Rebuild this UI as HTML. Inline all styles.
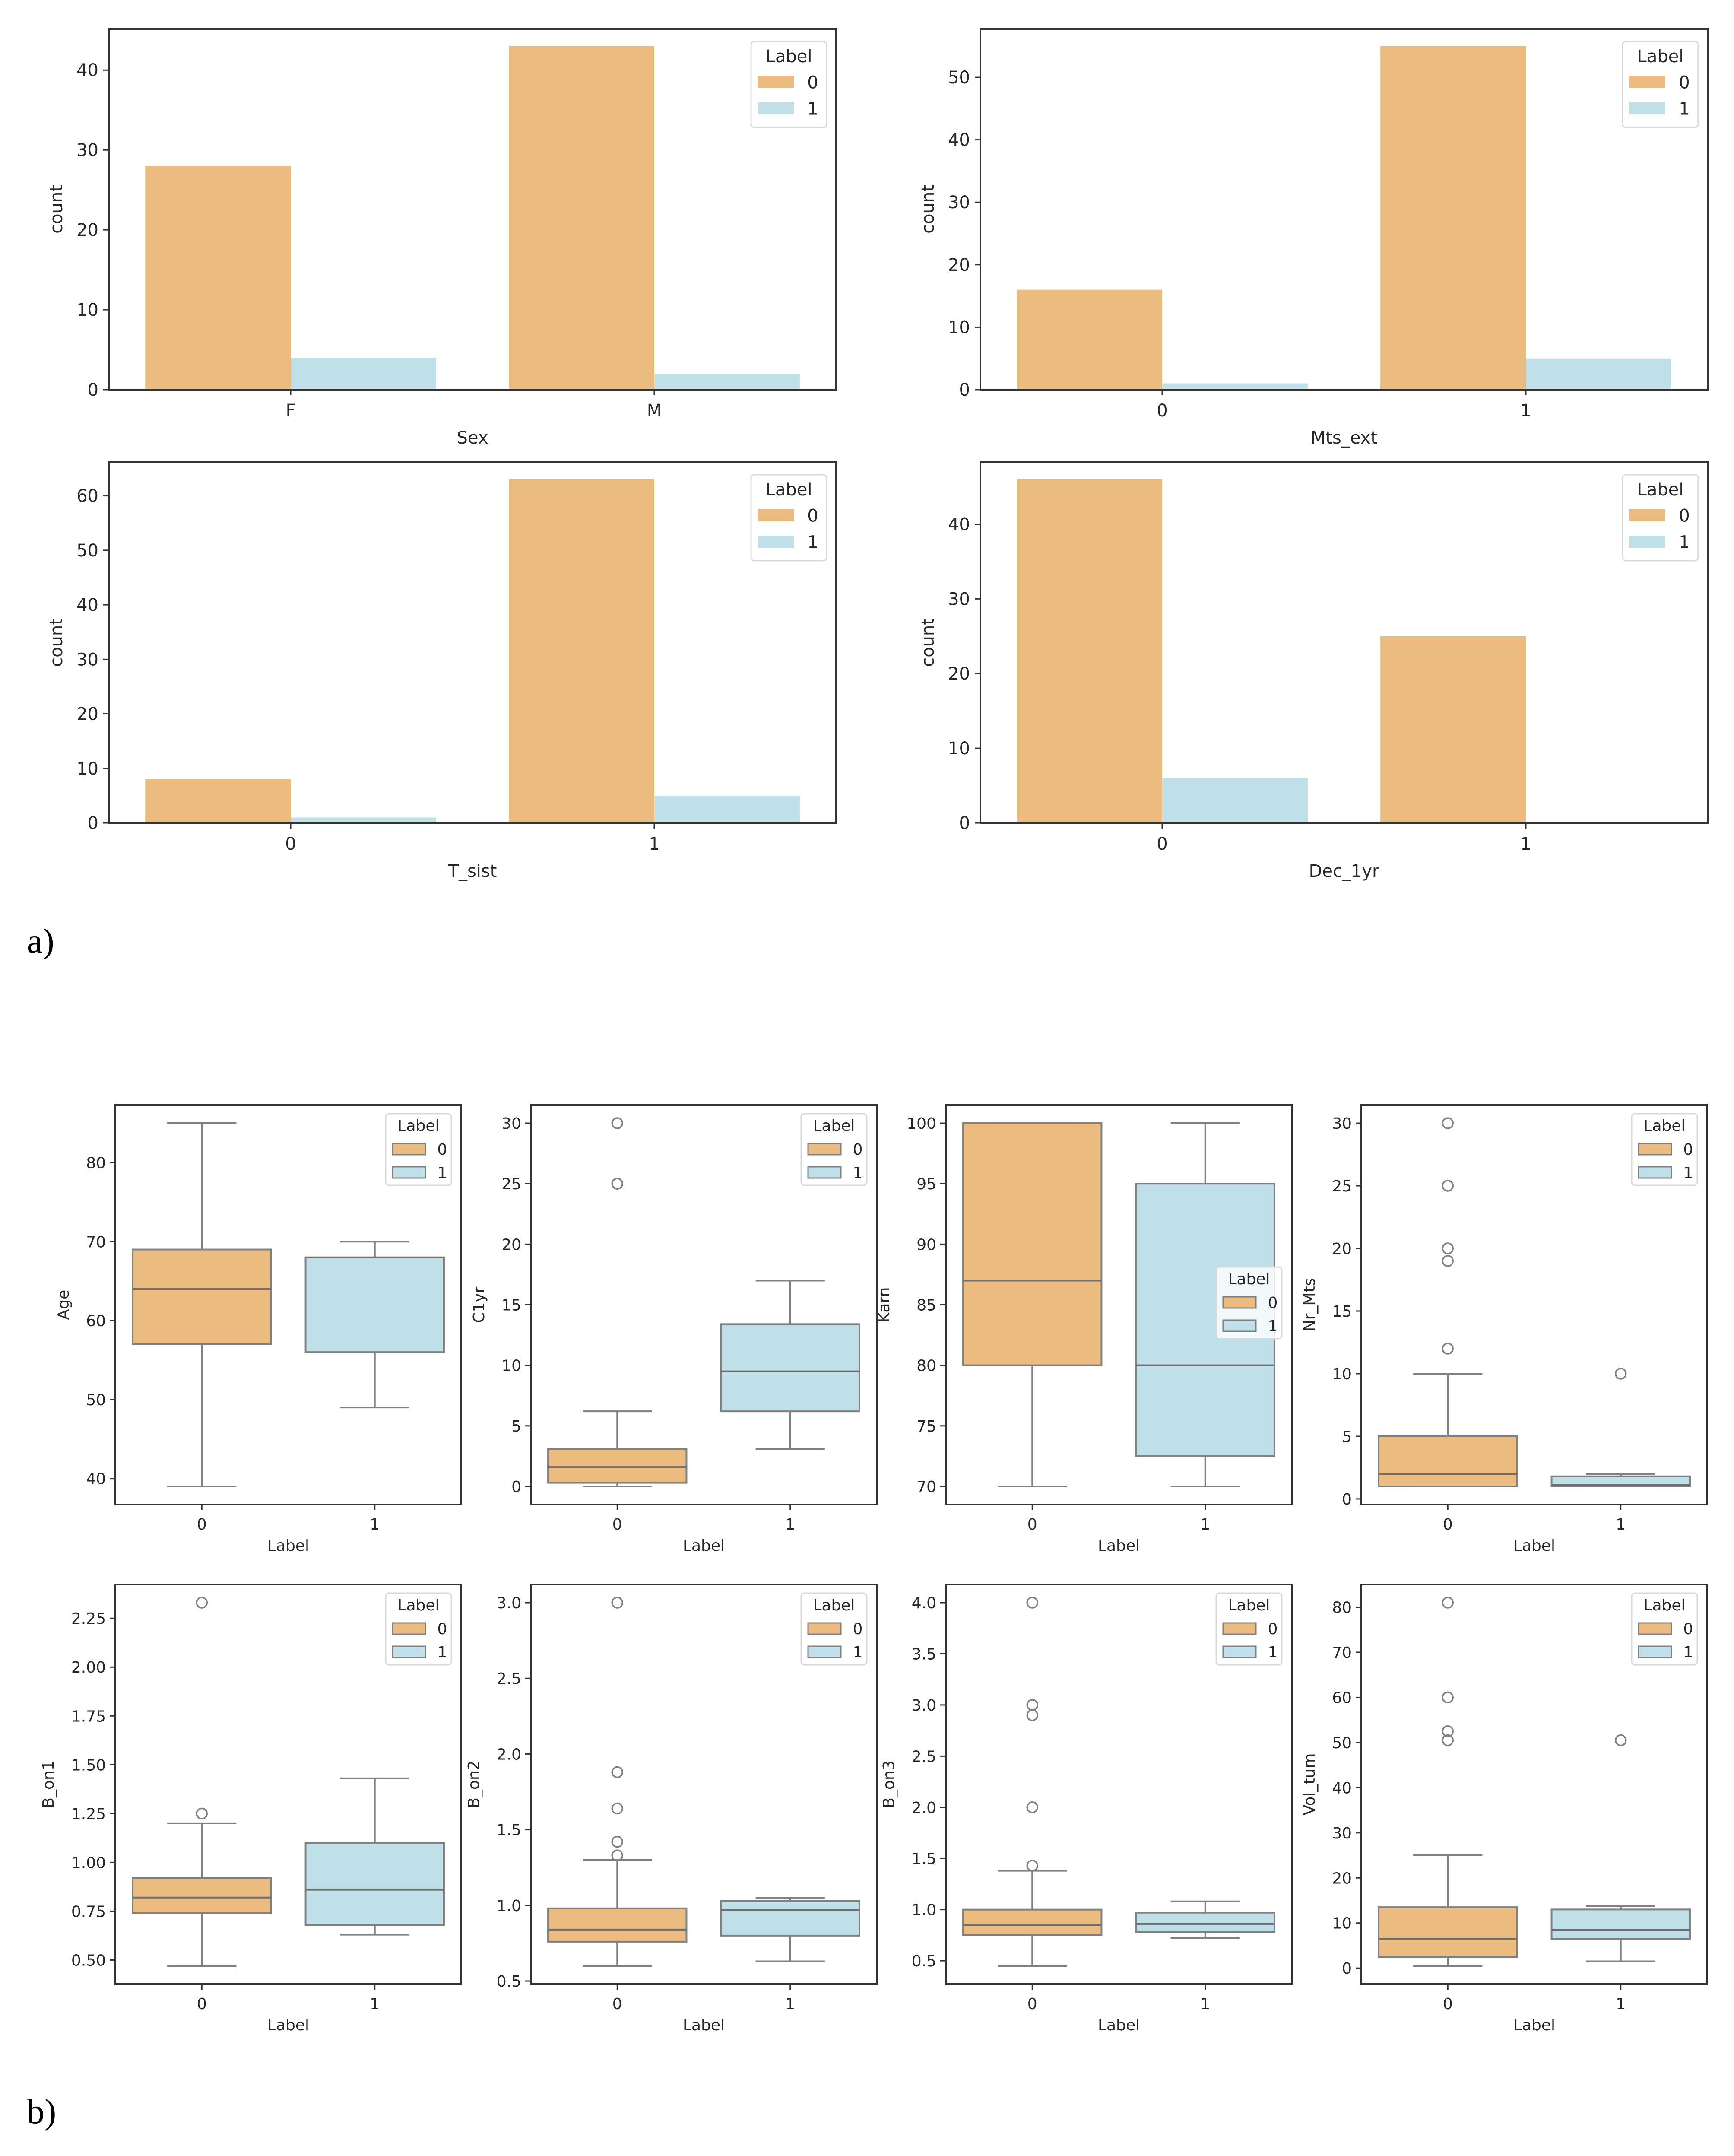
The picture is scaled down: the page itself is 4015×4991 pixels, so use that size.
<!DOCTYPE html>
<html><head><meta charset="utf-8"><style>
html,body{margin:0;padding:0;background:#fff;}
svg{display:block;font-family:"DejaVu Sans","Liberation Sans",sans-serif;}
</style></head><body>
<svg id="fig" xmlns="http://www.w3.org/2000/svg" width="4015" height="4991" viewBox="0 0 4015 4991">
<rect x="0" y="0" width="4015" height="4991" fill="#fff"/>
<text x="62" y="2205" font-family="Liberation Serif, serif" font-size="82" fill="#000">a)</text>
<text x="62" y="4915" font-family="Liberation Serif, serif" font-size="82" fill="#000">b)</text>
</svg>
<script>
// ---------- Bar chart data ----------
const sexCats = ['F', 'M'];
const sexLabel0 = [28, 43];
const sexLabel1 = [4, 2];
const sexTicks = [0, 10, 20, 30, 40];

const mtsCats = ['0', '1'];
const mtsLabel0 = [16, 55];
const mtsLabel1 = [1, 5];
const mtsTicks = [0, 10, 20, 30, 40, 50];

const tsistCats = ['0', '1'];
const tsistLabel0 = [8, 63];
const tsistLabel1 = [1, 5];
const tsistTicks = [0, 10, 20, 30, 40, 50, 60];

const decCats = ['0', '1'];
const decLabel0 = [46, 25];
const decLabel1 = [6, 0];
const decTicks = [0, 10, 20, 30, 40];

// ---------- Box plot data: [whisker low, q1, median, q3, whisker high] ----------
const boxCats = ['0', '1'];
const ageBox0 = [39, 57, 64, 69, 85];
const ageBox1 = [49, 56, 68, 68, 70];
const ageOut0 = [];
const ageOut1 = [];
const ageTicks = [40, 50, 60, 70, 80];

const c1yrBox0 = [0, 0.3, 1.6, 3.1, 6.2];
const c1yrBox1 = [3.1, 6.2, 9.5, 13.4, 17];
const c1yrOut0 = [25, 30];
const c1yrOut1 = [];
const c1yrTicks = [0, 5, 10, 15, 20, 25, 30];

const karnBox0 = [70, 80, 87, 100, 100];
const karnBox1 = [70, 72.5, 80, 95, 100];
const karnOut0 = [];
const karnOut1 = [];
const karnTicks = [70, 75, 80, 85, 90, 95, 100];

const nrBox0 = [1, 1, 2, 5, 10];
const nrBox1 = [1, 1, 1.1, 1.8, 2];
const nrOut0 = [12, 19, 20, 25, 30];
const nrOut1 = [10];
const nrTicks = [0, 5, 10, 15, 20, 25, 30];

const bon1Box0 = [0.47, 0.74, 0.82, 0.92, 1.2];
const bon1Box1 = [0.63, 0.68, 0.86, 1.1, 1.43];
const bon1Out0 = [1.25, 2.33];
const bon1Out1 = [];
const bon1Ticks = [0.5, 0.75, 1.0, 1.25, 1.5, 1.75, 2.0, 2.25];

const bon2Box0 = [0.6, 0.76, 0.84, 0.98, 1.3];
const bon2Box1 = [0.63, 0.8, 0.97, 1.03, 1.05];
const bon2Out0 = [1.33, 1.42, 1.64, 1.88, 3.0];
const bon2Out1 = [];
const bon2Ticks = [0.5, 1.0, 1.5, 2.0, 2.5, 3.0];

const bon3Box0 = [0.45, 0.75, 0.85, 1.0, 1.38];
const bon3Box1 = [0.72, 0.78, 0.86, 0.97, 1.08];
const bon3Out0 = [1.43, 2.0, 2.9, 3.0, 4.0];
const bon3Out1 = [];
const bon3Ticks = [0.5, 1.0, 1.5, 2.0, 2.5, 3.0, 3.5, 4.0];

const volBox0 = [0.5, 2.5, 6.5, 13.5, 25];
const volBox1 = [1.5, 6.5, 8.5, 13, 13.8];
const volOut0 = [50.5, 52.5, 60, 81];
const volOut1 = [50.5];
const volTicks = [0, 10, 20, 30, 40, 50, 60, 70, 80];

// ---------- rendering ----------
const NS = 'http://www.w3.org/2000/svg';
const svg = document.getElementById('fig');
const ORANGE = '#ebbb7f';
const BLUE = '#bfe0e8';
const BOXEDGE = '#808080';
const TXT = '#262626';
function el(tag, attrs, parent) {
  const e = document.createElementNS(NS, tag);
  for (const k in attrs) e.setAttribute(k, attrs[k]);
  (parent || svg).appendChild(e);
  return e;
}
function txt(s, attrs, parent) {
  const t = el('text', attrs, parent);
  t.textContent = s;
  return t;
}

function drawLegend(g, x, y, w, h, big) {
  const lg = el('g', {}, g);
  
  
  el('rect', {x: x, y: y, width: w, height: h, rx: 8, fill: '#fff', 'fill-opacity': 0.8, stroke: '#d9d9d9', 'stroke-width': 3}, lg);
  const fs = big ? 40 : 36;
  const tt = txt('Label', {x: x + w / 2, y: y + (big ? 48 : 40), 'font-size': fs, 'text-anchor': 'middle', fill: TXT}, lg);
  
  
  const rows = big ? [94, 155] : [82, 136];
  const cols = [ORANGE, BLUE];
  const labs = ['0', '1'];
  for (let i = 0; i < 2; i++) {
    const pw = big ? 83 : 76, ph = big ? 28 : 26;
    const p = el('rect', {x: x + 16, y: y + rows[i] - ph / 2, width: pw, height: ph, fill: cols[i], stroke: big ? 'none' : BOXEDGE, 'stroke-width': 3}, lg);
    
    
    const lt = txt(labs[i], {x: x + (big ? 143 : 131), y: y + rows[i] + fs * 0.36, 'font-size': fs, 'text-anchor': 'middle', fill: TXT}, lg);
    
    
  }
}

function frame(g, L, T, W, H) {
  const f = el('rect', {x: L, y: T, width: W, height: H, fill: 'none', stroke: '#333', 'stroke-width': 4}, g);
  
  
}

function barChart(name, L, T, cats, s0, s1, ticks, xlabel) {
  const W = 1684, H = 835;
  const g = el('g', {});
  
  
  const ymax = Math.max(...s0, ...s1) * 1.05;
  const ys = v => T + H - v / ymax * H;
  const slot = W / cats.length;
  const xs = i => L + slot * (i + 0.5);
  const bw = slot * 0.4;
  cats.forEach((c, i) => {
    const b0 = el('rect', {x: xs(i) - bw, y: ys(s0[i]), width: bw, height: T + H - ys(s0[i]), fill: ORANGE}, g);
    
    
    const b1 = el('rect', {x: xs(i), y: ys(s1[i]), width: bw, height: T + H - ys(s1[i]), fill: BLUE}, g);
    
    
    el('line', {x1: xs(i), x2: xs(i), y1: T + H, y2: T + H + 13, stroke: '#333', 'stroke-width': 3}, g);
    const tl = txt(c, {x: xs(i), y: T + H + 62, 'font-size': 40, 'text-anchor': 'middle', fill: TXT}, g);
    
    
  });
  ticks.forEach(t => {
    el('line', {x1: L - 13, x2: L, y1: ys(t), y2: ys(t), stroke: '#333', 'stroke-width': 3}, g);
    const tl = txt(String(t), {x: L - 24, y: ys(t) + 14, 'font-size': 40, 'text-anchor': 'end', fill: TXT}, g);
    
    
  });
  frame(g, L, T, W, H);
  const xl = txt(xlabel, {x: L + W / 2, y: T + H + 125, 'font-size': 40, 'text-anchor': 'middle', fill: TXT}, g);
  
  
  const yl = txt('count', {x: 0, y: 0, 'font-size': 40, 'text-anchor': 'middle', fill: TXT, transform: 'translate(' + (L - 108) + ',' + (T + H / 2) + ') rotate(-90)'}, g);
  
  
  drawLegend(g, L + W - 197, T + 29, 175, 199, true);
}

function labelWidth(s) {
  let w = 0;
  for (const ch of s) w += (ch === '.') ? 12 : 23;
  return w;
}

function boxChart(name, L, T, b0, b1, o0, o1, ticks, dec, ylabel, legendPos) {
  const W = 801, H = 925;
  const g = el('g', {});
  
  
  const all = [...b0, ...b1, ...o0, ...o1];
  const mn = Math.min(...all), mx = Math.max(...all);
  const pad = (mx - mn) * 0.05;
  const lo = mn - pad, hi = mx + pad;
  const ys = v => T + H - (v - lo) / (hi - lo) * H;
  const slot = W / 2;
  const xs = i => L + slot * (i + 0.5);
  const bw = slot * 0.8;
  const boxes = [b0, b1], outs = [o0, o1], cols = [ORANGE, BLUE];
  let maxW = 0;
  ticks.forEach(t => {
    const s = t.toFixed(dec);
    maxW = Math.max(maxW, labelWidth(s));
    el('line', {x1: L - 13, x2: L, y1: ys(t), y2: ys(t), stroke: '#333', 'stroke-width': 3}, g);
    const tl = txt(s, {x: L - 22, y: ys(t) + 13, 'font-size': 36, 'text-anchor': 'end', fill: TXT}, g);
    
    
  });
  for (let i = 0; i < 2; i++) {
    const b = boxes[i], cx = xs(i);
    const wl = el('line', {x1: cx, x2: cx, y1: ys(b[0]), y2: ys(b[1]), stroke: BOXEDGE, 'stroke-width': 4}, g);
    
    
    const wh = el('line', {x1: cx, x2: cx, y1: ys(b[3]), y2: ys(b[4]), stroke: BOXEDGE, 'stroke-width': 4}, g);
    
    
    el('line', {x1: cx - bw / 4, x2: cx + bw / 4, y1: ys(b[0]), y2: ys(b[0]), stroke: BOXEDGE, 'stroke-width': 4}, g);
    el('line', {x1: cx - bw / 4, x2: cx + bw / 4, y1: ys(b[4]), y2: ys(b[4]), stroke: BOXEDGE, 'stroke-width': 4}, g);
    const bx = el('rect', {x: cx - bw / 2, y: ys(b[3]), width: bw, height: ys(b[1]) - ys(b[3]), fill: cols[i], stroke: BOXEDGE, 'stroke-width': 4}, g);
    
    
    const md = el('line', {x1: cx - bw / 2, x2: cx + bw / 2, y1: ys(b[2]), y2: ys(b[2]), stroke: '#6e6e6e', 'stroke-width': 4}, g);
    
    
    outs[i].forEach(v => {
      const c = el('circle', {cx: cx, cy: ys(v), r: 12, fill: 'none', stroke: BOXEDGE, 'stroke-width': 3.5}, g);
      
      
    });
    el('line', {x1: cx, x2: cx, y1: T + H, y2: T + H + 13, stroke: '#333', 'stroke-width': 3}, g);
    const tl = txt(boxCats[i], {x: cx, y: T + H + 58, 'font-size': 36, 'text-anchor': 'middle', fill: TXT}, g);
    
    
  }
  frame(g, L, T, W, H);
  const xl = txt('Label', {x: L + W / 2, y: T + H + 107, 'font-size': 36, 'text-anchor': 'middle', fill: TXT}, g);
  
  
  const yOff = maxW + 62;
  const yl = txt(ylabel, {x: 0, y: 0, 'font-size': 36, 'text-anchor': 'middle', fill: TXT, transform: 'translate(' + (L - yOff) + ',' + (T + H / 2) + ') rotate(-90)'}, g);
  
  
  if (legendPos === 'mid') drawLegend(g, L + W - 175, T + 375, 152, 166, false);
  else drawLegend(g, L + W - 175, T + 20, 152, 166, false);
}

barChart('sex', 252, 67, sexCats, sexLabel0, sexLabel1, sexTicks, 'Sex');
barChart('mts-ext', 2270, 67, mtsCats, mtsLabel0, mtsLabel1, mtsTicks, 'Mts_ext');
barChart('t-sist', 252, 1070, tsistCats, tsistLabel0, tsistLabel1, tsistTicks, 'T_sist');
barChart('dec-1yr', 2270, 1070, decCats, decLabel0, decLabel1, decTicks, 'Dec_1yr');

const colX = [267, 1229, 2190, 3152];
boxChart('age', colX[0], 2558, ageBox0, ageBox1, ageOut0, ageOut1, ageTicks, 0, 'Age', 'top');
boxChart('c1yr', colX[1], 2558, c1yrBox0, c1yrBox1, c1yrOut0, c1yrOut1, c1yrTicks, 0, 'C1yr', 'top');
boxChart('karn', colX[2], 2558, karnBox0, karnBox1, karnOut0, karnOut1, karnTicks, 0, 'Karn', 'mid');
boxChart('nr-mts', colX[3], 2558, nrBox0, nrBox1, nrOut0, nrOut1, nrTicks, 0, 'Nr_Mts', 'top');
boxChart('b-on1', colX[0], 3668, bon1Box0, bon1Box1, bon1Out0, bon1Out1, bon1Ticks, 2, 'B_on1', 'top');
boxChart('b-on2', colX[1], 3668, bon2Box0, bon2Box1, bon2Out0, bon2Out1, bon2Ticks, 1, 'B_on2', 'top');
boxChart('b-on3', colX[2], 3668, bon3Box0, bon3Box1, bon3Out0, bon3Out1, bon3Ticks, 1, 'B_on3', 'top');
boxChart('vol-tum', colX[3], 3668, volBox0, volBox1, volOut0, volOut1, volTicks, 0, 'Vol_tum', 'top');
</script>
</body></html>
